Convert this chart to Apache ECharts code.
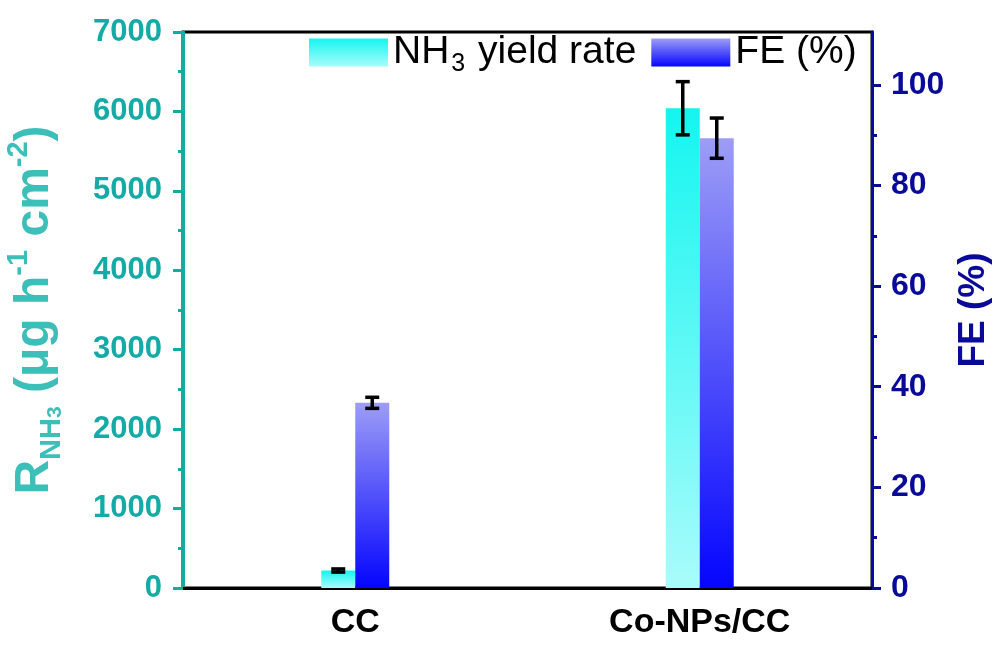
<!DOCTYPE html>
<html><head><meta charset="utf-8">
<script src="https://cdn.jsdelivr.net/npm/echarts@6/dist/echarts.min.js"></script>
<style>html,body{margin:0;padding:0;background:#fff}#c{width:998px;height:648px}</style>
</head><body><div id="c"></div>
<script>
const categories = ['CC', 'Co-NPs/CC'];
const yieldRate = [220, 6040];
const yieldErr = [20, 335];
const feValues = [36.8, 89.4];
const feErr = [1.1, 4.0];
const feTicks = [0, 20, 40, 60, 80, 100];
const feMinorTicks = [10, 30, 50, 70, 90];
const seriesNames = ['NH3 yield rate', 'FE (%)'];

const FONT = 'Arial, "Liberation Sans", sans-serif';
const TEAL = '#14aaa5';
const TEAL_T = '#3dbfb9';
const NAVY = '#0a0a9a';
const BAR_W = 34;

const gradNH3 = new echarts.graphic.LinearGradient(0, 0, 0, 1, [
  {offset: 0, color: '#14f5f0'}, {offset: 1, color: '#a8fcfb'}]);
const gradFE = new echarts.graphic.LinearGradient(0, 0, 0, 1, [
  {offset: 0, color: '#9d9df6'}, {offset: 1, color: '#0505ff'}]);

function errRender(sign) {
  return function (params, api) {
    const c = api.value(0);
    const lo = api.coord([c, api.value(1)]);
    const hi = api.coord([c, api.value(2)]);
    const x = lo[0] + sign * BAR_W / 2;
    const cap = 7;
    const st = {stroke: '#000', lineWidth: 3.5};
    return {type: 'group', children: [
      {type: 'line', shape: {x1: x, y1: hi[1], x2: x, y2: lo[1]}, style: st},
      {type: 'line', shape: {x1: x - cap, y1: hi[1], x2: x + cap, y2: hi[1]}, style: st},
      {type: 'line', shape: {x1: x - cap, y1: lo[1], x2: x + cap, y2: lo[1]}, style: st}
    ]};
  };
}

const chart = echarts.init(document.getElementById('c'), null, {renderer: 'canvas'});
chart.setOption({
  animation: false,
  backgroundColor: '#fff',
  textStyle: {fontFamily: FONT},
  grid: {left: 183, right: 126, top: 32, bottom: 60, outerBoundsMode: 'none', containLabel: false,
    show: true, borderColor: '#000', borderWidth: 3, backgroundColor: 'transparent'},
  legend: {
    left: 304, top: 28, itemWidth: 79, itemHeight: 28, itemGap: 15, icon: 'rect',
    data: seriesNames,
    formatter: function (n) { return n === seriesNames[0] ? '{a|NH}{s|3}{a| yield rate}' : '{a|FE (%)}'; },
    textStyle: {color: '#000', fontFamily: FONT, fontSize: 39,
      rich: {a: {fontSize: 39, fontFamily: FONT, color: '#000', lineHeight: 48},
             s: {fontSize: 25, fontFamily: FONT, color: '#000', lineHeight: 48, verticalAlign: 'bottom', padding: [0, 2, 0, 2]}}}
  },
  xAxis: [{
    type: 'category', data: categories, position: 'bottom',
    axisLine: {lineStyle: {color: '#000', width: 3}},
    axisTick: {alignWithLabel: true, length: 6, lineStyle: {color: '#000', width: 3}},
    axisLabel: {color: '#000', fontSize: 34, fontWeight: 'bold', fontFamily: FONT, margin: 18}
  }, {
    type: 'category', data: categories, position: 'bottom',
    axisLine: {show: false},
    axisTick: {length: 6, lineStyle: {color: '#000', width: 3}},
    axisLabel: {show: false}
  }],
  yAxis: [{
    type: 'value', min: 0, max: 7000, interval: 1000, position: 'left',
    name: '{r|R}{s|NH}{t|3}{r| (μg h}{p|-1}{r| cm}{p|-2}{r|)}',
    nameLocation: 'middle', nameGap: 117,
    nameTextStyle: {color: TEAL_T, fontFamily: FONT,
      rich: {r: {fontSize: 48, fontWeight: 'bold', fontFamily: FONT, color: TEAL_T, lineHeight: 62},
             s: {fontSize: 29, fontWeight: 'bold', fontFamily: FONT, color: TEAL_T, lineHeight: 62, verticalAlign: 'bottom'},
             t: {fontSize: 21, fontWeight: 'bold', fontFamily: FONT, color: TEAL_T, lineHeight: 56, verticalAlign: 'bottom'},
             p: {fontSize: 29, fontWeight: 'bold', fontFamily: FONT, color: TEAL_T, lineHeight: 62, verticalAlign: 'top'}}},
    axisLine: {show: true, lineStyle: {color: TEAL, width: 3}},
    axisTick: {show: true, length: 10, lineStyle: {color: TEAL, width: 3}},
    minorTick: {show: true, splitNumber: 2, length: 5, lineStyle: {color: TEAL, width: 3}},
    splitLine: {show: false},
    axisLabel: {color: TEAL, fontSize: 31, fontWeight: 'bold', fontFamily: FONT, margin: 21,
      formatter: function (v) { return String(v); }}
  }, {
    type: 'value', min: 0, max: 110.5, position: 'right',
    name: 'FE (%)', nameLocation: 'middle', nameGap: 80,
    nameTextStyle: {color: NAVY, fontSize: 37, fontWeight: 'bold', fontFamily: FONT},
    axisLine: {show: true, lineStyle: {color: NAVY, width: 3}},
    axisTick: {show: true, length: 9, customValues: feTicks, lineStyle: {color: NAVY, width: 3}},
    splitLine: {show: false},
    axisLabel: {color: NAVY, fontSize: 32, fontWeight: 'bold', fontFamily: FONT, margin: 19, customValues: feTicks}
  }, {
    type: 'value', min: 0, max: 110.5, position: 'right',
    axisLine: {show: false},
    axisTick: {show: true, length: 5, customValues: feMinorTicks, lineStyle: {color: NAVY, width: 3}},
    splitLine: {show: false},
    axisLabel: {show: false}
  }],
  series: [{
    name: seriesNames[0], type: 'bar', xAxisIndex: 0, yAxisIndex: 0,
    data: yieldRate, barWidth: BAR_W, barGap: '0%',
    itemStyle: {color: gradNH3}
  }, {
    name: seriesNames[1], type: 'bar', xAxisIndex: 0, yAxisIndex: 1,
    data: feValues, barWidth: BAR_W, barGap: '0%',
    itemStyle: {color: gradFE}
  }, {
    type: 'custom', xAxisIndex: 0, yAxisIndex: 0, z: 5,
    renderItem: errRender(-1),
    encode: {x: 0, y: [1, 2]},
    data: categories.map((c, i) => [i, yieldRate[i] - yieldErr[i], yieldRate[i] + yieldErr[i]])
  }, {
    type: 'custom', xAxisIndex: 0, yAxisIndex: 1, z: 5,
    renderItem: errRender(1),
    encode: {x: 0, y: [1, 2]},
    data: categories.map((c, i) => [i, feValues[i] - feErr[i], feValues[i] + feErr[i]])
  }]
});
</script></body></html>
